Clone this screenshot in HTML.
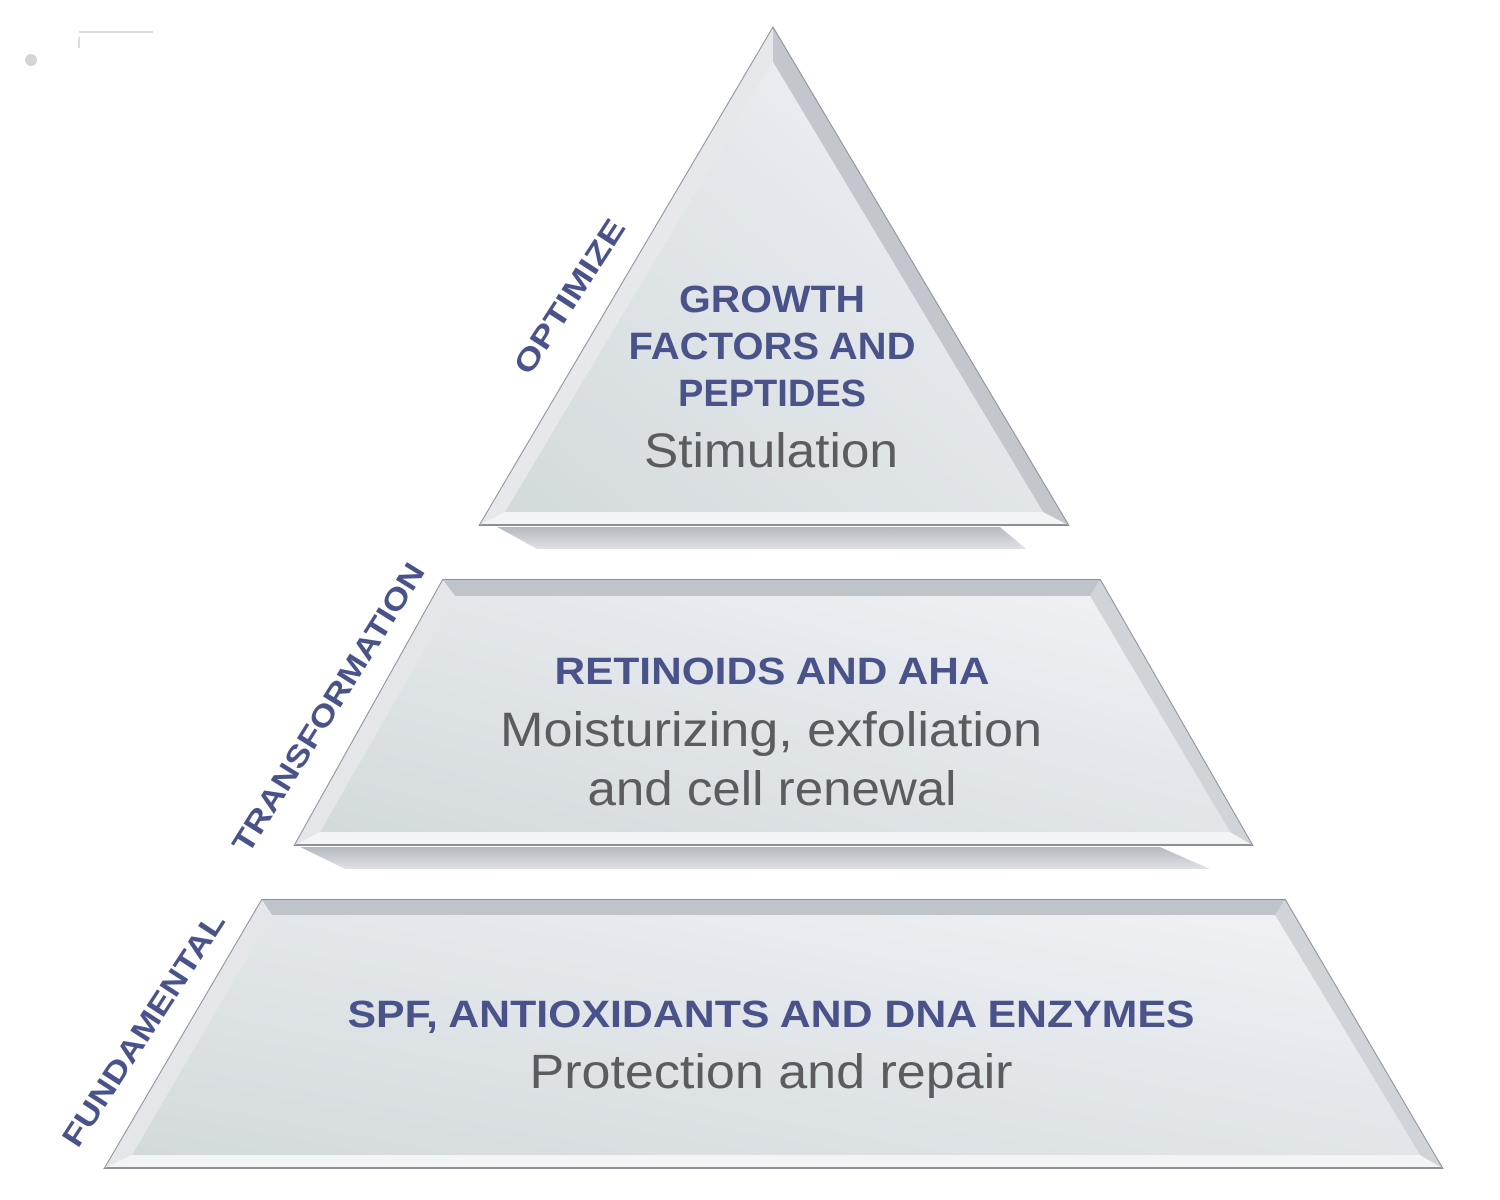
<!DOCTYPE html>
<html><head><meta charset="utf-8"><style>
html,body{margin:0;padding:0;background:#fff;}
svg{display:block;}
.t{font-family:"Liberation Sans",sans-serif;font-weight:bold;fill:#4a5389;}
.s{font-family:"Liberation Sans",sans-serif;fill:#5a5c60;}
</style></head><body>
<svg width="1500" height="1200" viewBox="0 0 1500 1200" xmlns="http://www.w3.org/2000/svg">
<defs>
<linearGradient id="face" x1="0" y1="1" x2="1" y2="0">
<stop offset="0" stop-color="#d3dadc"/><stop offset="0.6" stop-color="#e4e8ec"/><stop offset="1" stop-color="#f1f2f6"/>
</linearGradient>
<linearGradient id="sh" x1="0" y1="0" x2="0" y2="1">
<stop offset="0" stop-color="#b4b8bf"/><stop offset="1" stop-color="#dfe1e5"/>
</linearGradient>
</defs>
<!-- small artifacts -->
<circle cx="31" cy="60" r="6" fill="#d4d4d6"/>
<line x1="79" y1="32" x2="153" y2="32" stroke="#bbb" stroke-width="1"/>
<line x1="79" y1="37" x2="79" y2="48" stroke="#bbb" stroke-width="1"/>

<!-- shadows -->
<polygon points="497,527 1000,527 1026,549 537,549" fill="url(#sh)"/>
<polygon points="300,847 1160,847 1210,869 345,869" fill="url(#sh)"/>

<!-- top triangle -->
<polygon points="773,28 480,525 1068,525" fill="#f3f4f6" stroke="#8c8f96" stroke-width="2"/>
<polygon points="773,28 1068,525 1043,512 773,62" fill="#c3c6cc"/>
<polygon points="773,28 773,62 505,512 480,525" fill="#e6e8ec"/>
<polygon points="773,62 505,512 1043,512" fill="url(#face)"/>

<!-- middle trapezoid -->
<polygon points="443,580 1100,580 1252,845 295,845" fill="#f3f4f6" stroke="#8c8f96" stroke-width="2"/>
<polygon points="443,580 1100,580 1090,596 455,596" fill="#bfc3ca"/>
<polygon points="1100,580 1252,845 1230,832 1090,596" fill="#d0d3d8"/>
<polygon points="443,580 455,596 320,832 295,845" fill="#e4e6ea"/>
<polygon points="455,596 1090,596 1230,832 320,832" fill="url(#face)"/>

<!-- bottom trapezoid -->
<polygon points="262,900 1285,900 1442,1168 105,1168" fill="#f3f4f6" stroke="#8c8f96" stroke-width="2"/>
<polygon points="262,900 1285,900 1275,915 272,915" fill="#bfc3ca"/>
<polygon points="1285,900 1442,1168 1420,1155 1275,915" fill="#d0d3d8"/>
<polygon points="262,900 272,915 132,1155 105,1168" fill="#e4e6ea"/>
<polygon points="272,915 1275,915 1420,1155 132,1155" fill="url(#face)"/>

<!-- side labels -->
<text class="t" font-size="30" text-anchor="middle" transform="translate(578,302) rotate(-57)" textLength="178" lengthAdjust="spacingAndGlyphs">OPTIMIZE</text>
<text class="t" font-size="30" text-anchor="middle" transform="translate(337,713) rotate(-58)" textLength="335" lengthAdjust="spacingAndGlyphs">TRANSFORMATION</text>
<text class="t" font-size="30" text-anchor="middle" transform="translate(152,1035) rotate(-57)" textLength="272" lengthAdjust="spacingAndGlyphs">FUNDAMENTAL</text>

<!-- top text -->
<text class="t" font-size="38" x="772" y="312" text-anchor="middle" textLength="186" lengthAdjust="spacingAndGlyphs">GROWTH</text>
<text class="t" font-size="38" x="772" y="359" text-anchor="middle" textLength="287" lengthAdjust="spacingAndGlyphs">FACTORS AND</text>
<text class="t" font-size="38" x="772" y="406" text-anchor="middle" textLength="188" lengthAdjust="spacingAndGlyphs">PEPTIDES</text>
<text class="s" font-size="48" x="771" y="467" text-anchor="middle" textLength="254" lengthAdjust="spacingAndGlyphs">Stimulation</text>

<!-- middle text -->
<text class="t" font-size="38" x="772" y="684" text-anchor="middle" textLength="435" lengthAdjust="spacingAndGlyphs">RETINOIDS AND AHA</text>
<text class="s" font-size="48" x="771" y="746" text-anchor="middle" textLength="542" lengthAdjust="spacingAndGlyphs">Moisturizing, exfoliation</text>
<text class="s" font-size="48" x="772" y="805" text-anchor="middle" textLength="369" lengthAdjust="spacingAndGlyphs">and cell renewal</text>

<!-- bottom text -->
<text class="t" font-size="38" x="771" y="1027" text-anchor="middle" textLength="847" lengthAdjust="spacingAndGlyphs">SPF, ANTIOXIDANTS AND DNA ENZYMES</text>
<text class="s" font-size="48" x="771" y="1088" text-anchor="middle" textLength="483" lengthAdjust="spacingAndGlyphs">Protection and repair</text>
</svg>
</body></html>
